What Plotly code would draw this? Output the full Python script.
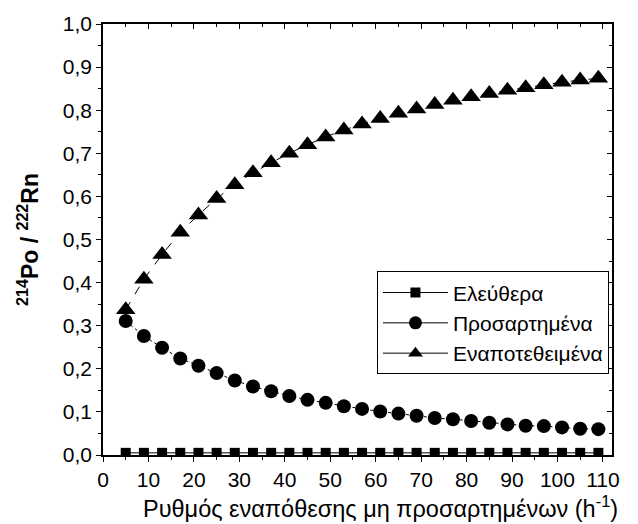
import plotly.graph_objects as go

# Deposition rate of unattached fraction (h^-1)
rate = [5, 9, 13, 17, 21, 25, 29, 33, 37, 41, 45, 49, 53, 57, 61, 65, 69,
        73, 77, 81, 85, 89, 93, 97, 101, 105, 109]

# 214Po / 222Rn ratios
free = [0.005] * 27
attached = [0.311, 0.276, 0.249, 0.224, 0.207, 0.190, 0.173, 0.159, 0.148,
            0.137, 0.128, 0.121, 0.113, 0.107, 0.101, 0.096, 0.091, 0.086,
            0.083, 0.079, 0.075, 0.071, 0.068, 0.067, 0.064, 0.061, 0.060]
deposited = [0.337, 0.408, 0.465, 0.517, 0.557, 0.595, 0.627, 0.655, 0.678,
             0.700, 0.720, 0.738, 0.754, 0.768, 0.781, 0.793, 0.803, 0.813,
             0.823, 0.831, 0.839, 0.846, 0.852, 0.859, 0.865, 0.870, 0.874]

names = ["Ελεύθερα", "Προσαρτημένα", "Εναποτεθειμένα"]
x_title = "Ρυθμός εναπόθεσης μη προσαρτημένων (h<sup>-1</sup>)"
y_title = "<b><sup>214</sup>Po / <sup>222</sup>Rn</b>"

FONT = "Liberation Sans, Arial, sans-serif"

series = [
    (free, "square", 10, "solid"),
    (attached, "circle", 14, "dot"),
    (deposited, "triangle-up", 17, "dash"),
]

fig = go.Figure()
for (vals, sym, size, dash), name in zip(series, names):
    fig.add_trace(go.Scatter(x=rate, y=vals, name=name, mode="lines+markers",
                             showlegend=False,
                             line=dict(color="black", width=1, dash=dash),
                             marker=dict(symbol=sym, size=size, color="black")))
# legend entries drawn with plain solid line samples
for (vals, sym, size, dash), name in zip(series, names):
    fig.add_trace(go.Scatter(x=[None], y=[None], name=name, mode="lines+markers",
                             line=dict(color="black", width=1),
                             marker=dict(symbol=sym, size=min(size, 13),
                                         color="black")))
# helper trace for the mirrored top/right axes with inward ticks
fig.add_trace(go.Scatter(x=[None], y=[None], xaxis="x2", yaxis="y2",
                         showlegend=False, hoverinfo="skip"))

xr = [0, 112]
yr = [0, 1.0]

# x-axis title, placed slightly right of the plot centre
fig.add_annotation(text=x_title, xref="paper", yref="paper", x=0.546, y=-0.081,
                   xanchor="center", yanchor="top", showarrow=False,
                   font=dict(family=FONT, size=23.5, color="black"))

fig.update_layout(
    width=638, height=524,
    margin=dict(l=103, r=26, t=21, b=69),
    paper_bgcolor="white", plot_bgcolor="white",
    separators=", ",
    font=dict(family=FONT, color="black", size=21),
    showlegend=True,
    legend=dict(x=0.994, y=0.426, xanchor="right", yanchor="top",
                bordercolor="black", borderwidth=1, bgcolor="white",
                font=dict(family=FONT, size=21), tracegroupgap=0,
                itemwidth=65),
    xaxis=dict(range=xr, tickmode="linear", tick0=0, dtick=10,
               ticks="outside", ticklen=5, tickwidth=1, tickcolor="black",
               minor=dict(dtick=5, ticks="outside", ticklen=3, tickcolor="black"),
               showline=True, linecolor="black", linewidth=1.5,
               showgrid=False, zeroline=False,
               tickfont=dict(family=FONT, size=21)),
    yaxis=dict(range=yr, tickmode="linear", tick0=0, dtick=0.1, tickformat=".1f",
               ticks="outside", ticklen=5, tickwidth=1, tickcolor="black",
               minor=dict(dtick=0.05, ticks="outside", ticklen=3, tickcolor="black"),
               showline=True, linecolor="black", linewidth=1.5,
               showgrid=False, zeroline=False,
               tickfont=dict(family=FONT, size=21),
               title=dict(text=y_title, font=dict(family=FONT, size=23),
                          standoff=18)),
    xaxis2=dict(overlaying="x", side="top", range=xr, tickmode="linear",
                tick0=0, dtick=10, ticks="inside", ticklen=5, tickcolor="black",
                minor=dict(dtick=5, ticks="inside", ticklen=3, tickcolor="black"),
                showticklabels=False, showline=True, linecolor="black",
                linewidth=1.5, showgrid=False, zeroline=False),
    yaxis2=dict(overlaying="y", side="right", range=yr, tickmode="linear",
                tick0=0, dtick=0.1, ticks="inside", ticklen=5, tickcolor="black",
                minor=dict(dtick=0.05, ticks="inside", ticklen=3, tickcolor="black"),
                showticklabels=False, showline=True, linecolor="black",
                linewidth=1.5, showgrid=False, zeroline=False),
)

fig.write_html("out.html")
